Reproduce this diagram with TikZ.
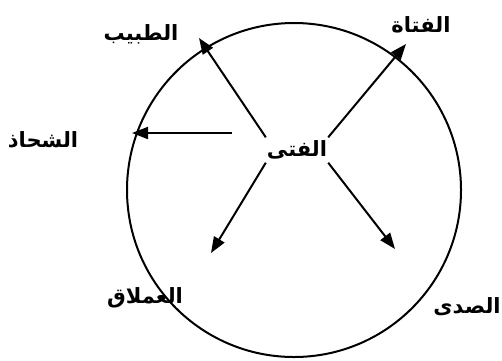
\documentclass[tikz,border=0pt]{standalone}
\usepackage{fontspec}
\newfontfamily\arabicfont[Script=Arabic]{DejaVu Sans}
\TeXXeTstate=1
\usetikzlibrary{arrows.meta}
\tikzset{
  role/.style ={font=\arabicfont\bfseries\fontsize{21}{24}\selectfont, inner sep=0pt},
  arr/.style  ={-{Triangle[length=16pt, width=12pt]}, line width=2pt},
  ring/.style ={draw, circle, line width=2pt, minimum size=334pt, inner sep=0pt},
}

\begin{document}
\begin{tikzpicture}[x=1pt, y=-1pt]
  \useasboundingbox (0,0) rectangle (502,360);
  \node[ring] (circ) at (294,190) {};
  % centre label and the five figures round it
  \node[role, minimum width=62pt, minimum height=25pt] (boy) at (297,150) {\beginR الفتى\endR};
  \node[role] (doctor) at (141,34)  {\beginR الطبيب\endR};
  \node[role] (girl)   at (421,25)  {\beginR الفتاة\endR};
  \node[role] (beggar) at (43,140)  {\beginR الشحاذ\endR};
  \node[role] (giant)  at (145,298) {\beginR العملاق\endR};
  \node[role] (echo)   at (467,307) {\beginR الصدى\endR};
  % arrow ends
  \coordinate (tipDoctor) at (199,38);
  \coordinate (tipGirl)   at (406,44);
  \coordinate (tipBeggar) at (132,133);
  \coordinate (tailBeggar) at (232,133);
  \coordinate (tipGiant)  at (211,253);
  \coordinate (tipEcho)   at (395,249);
  \draw[arr] (boy.north west) -- (tipDoctor);
  \draw[arr] (boy.north east) -- (tipGirl);
  \draw[arr] (tailBeggar) -- (tipBeggar);
  \draw[arr] (boy.south west) -- (tipGiant);
  \draw[arr] (boy.south east) -- (tipEcho);
\end{tikzpicture}
\end{document}
